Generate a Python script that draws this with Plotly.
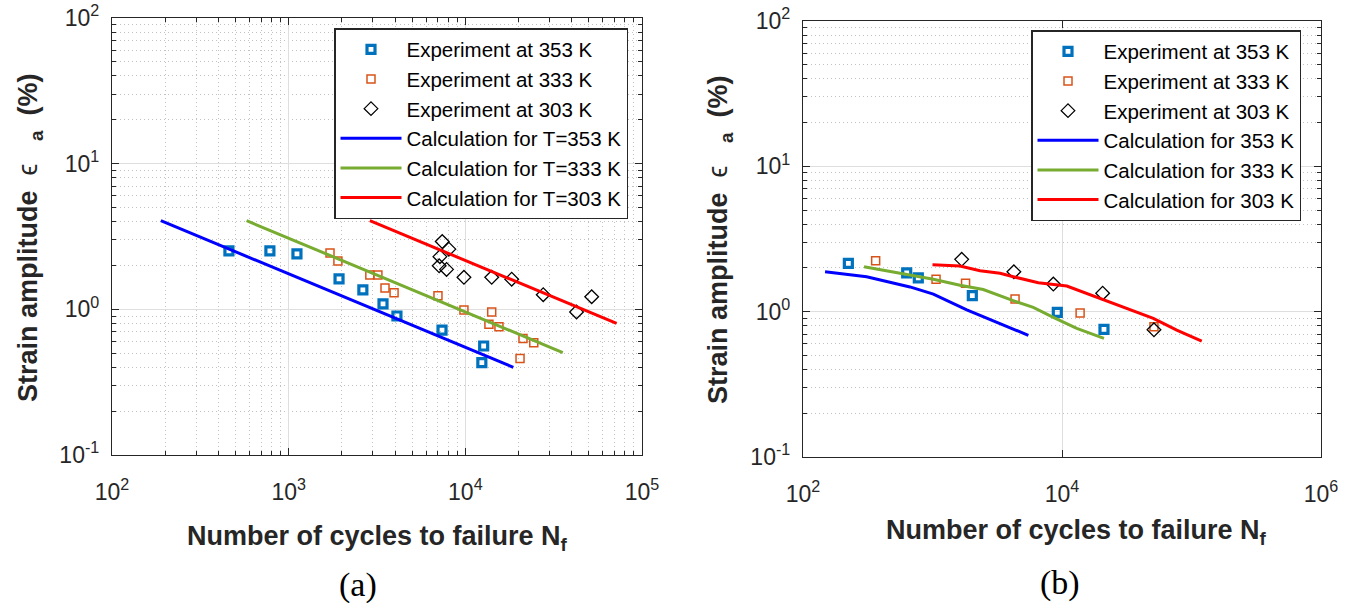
import plotly.graph_objects as go

W, H = 1354, 603
FONT = "Liberation Sans, Arial, sans-serif"

# ---------------- panel (a) data ----------------
n353_a = [459, 783, 1114, 1928, 2630, 3420, 4100, 7380, 12700, 12400]
e353_a = [2.52, 2.52, 2.40, 1.62, 1.36, 1.09, 0.90, 0.72, 0.56, 0.43]
n333_a = [1714, 1900, 2880, 3200, 3510, 3950, 7000, 9820, 14100, 13600, 15500, 21200, 24400, 20400]
e333_a = [2.44, 2.15, 1.72, 1.72, 1.40, 1.30, 1.24, 0.99, 0.96, 0.79, 0.76, 0.63, 0.59, 0.46]
n303_a = [7400, 8070, 7180, 7110, 7830, 9820, 14100, 18300, 27600, 42600, 51900]
e303_a = [2.92, 2.59, 2.30, 1.99, 1.88, 1.66, 1.66, 1.61, 1.26, 0.96, 1.22]
cn353_a = [189, 18700]
ce353_a = [4.06, 0.40]
cn333_a = [578, 35600]
ce333_a = [4.06, 0.505]
cn303_a = [2880, 71800]
ce303_a = [4.06, 0.80]

# ---------------- panel (b) data ----------------
n353_b = [224, 632, 777, 2030, 9200, 21100]
e353_b = [2.15, 1.85, 1.71, 1.29, 0.99, 0.755]
n333_b = [364, 1065, 1800, 4340, 13800, 51300]
e333_b = [2.24, 1.67, 1.57, 1.22, 0.98, 0.787]
n303_b = [1680, 4250, 8570, 20600, 51300]
e303_b = [2.29, 1.88, 1.55, 1.34, 0.75]
cn353_b = [148, 310, 670, 1015, 1840, 3320, 5500]
ce353_b = [1.88, 1.74, 1.48, 1.32, 1.03, 0.83, 0.687]
cn333_b = [296, 561, 1015, 1630, 2465, 4200, 6000, 8570, 13000, 21100]
ce333_b = [2.04, 1.85, 1.67, 1.52, 1.42, 1.19, 1.07, 0.914, 0.767, 0.655]
cn303_b = [1000, 1630, 2330, 3320, 4210, 6560, 10900, 19600, 31600, 50700, 76900, 120000]
ce303_b = [2.10, 2.06, 1.91, 1.835, 1.74, 1.58, 1.50, 1.235, 1.05, 0.90, 0.747, 0.628]

names_a = ["Experiment at 353 K", "Experiment at 333 K", "Experiment at 303 K",
           "Calculation for T=353 K", "Calculation for T=333 K", "Calculation for T=303 K"]
names_b = ["Experiment at 353 K", "Experiment at 333 K", "Experiment at 303 K",
           "Calculation for 353 K", "Calculation for 333 K", "Calculation for 303 K"]

x_major_a = [1e2, 1e3, 1e4, 1e5]
x_major_b = [1e2, 1e4, 1e6]
y_major = [0.1, 1, 10, 100]
ticktext_x_a = ["10<sup>2</sup>", "10<sup>3</sup>", "10<sup>4</sup>", "10<sup>5</sup>"]
ticktext_x_b = ["10<sup>2</sup>", "10<sup>4</sup>", "10<sup>6</sup>"]
ticktext_y = ["10<sup>-1</sup>", "10<sup>0</sup>", "10<sup>1</sup>", "10<sup>2</sup>"]

C_BLUE_M = "#0072BD"
C_ORANGE = "#D95319"
C_BLUE_L = "#0000FF"
C_GREEN = "#77AC30"
C_RED = "#FF0000"

fig = go.Figure()


def add_panel(xa, ya, leg, names, d353, d333, d303, c353, c333, c303):
    fig.add_trace(go.Scatter(x=d353[0], y=d353[1], mode="markers", name=names[0],
                             xaxis=xa, yaxis=ya, legend=leg,
                             marker=dict(symbol="square-open", size=8, color=C_BLUE_M,
                                         line=dict(width=3.2, color=C_BLUE_M))))
    fig.add_trace(go.Scatter(x=d333[0], y=d333[1], mode="markers", name=names[1],
                             xaxis=xa, yaxis=ya, legend=leg,
                             marker=dict(symbol="square-open", size=8, color=C_ORANGE,
                                         line=dict(width=1.5, color=C_ORANGE))))
    fig.add_trace(go.Scatter(x=d303[0], y=d303[1], mode="markers", name=names[2],
                             xaxis=xa, yaxis=ya, legend=leg,
                             marker=dict(symbol="diamond-open", size=10.5, color="black",
                                         line=dict(width=1.3, color="black"))))
    fig.add_trace(go.Scatter(x=c353[0], y=c353[1], mode="lines", name=names[3],
                             xaxis=xa, yaxis=ya, legend=leg,
                             line=dict(color=C_BLUE_L, width=3)))
    fig.add_trace(go.Scatter(x=c333[0], y=c333[1], mode="lines", name=names[4],
                             xaxis=xa, yaxis=ya, legend=leg,
                             line=dict(color=C_GREEN, width=3)))
    fig.add_trace(go.Scatter(x=c303[0], y=c303[1], mode="lines", name=names[5],
                             xaxis=xa, yaxis=ya, legend=leg,
                             line=dict(color=C_RED, width=3)))


add_panel("x", "y", "legend", names_a, (n353_a, e353_a), (n333_a, e333_a), (n303_a, e303_a),
          (cn353_a, ce353_a), (cn333_a, ce333_a), (cn303_a, ce303_a))
add_panel("x2", "y2", "legend2", names_b, (n353_b, e353_b), (n333_b, e333_b), (n303_b, e303_b),
          (cn353_b, ce353_b), (cn333_b, ce333_b), (cn303_b, ce303_b))


def minor_vals(lo, hi):
    vals = []
    d = lo
    while d < hi:
        vals += [d * k for k in range(2, 10)]
        d *= 10
    return vals


AX = "#262626"
common = dict(type="log", showline=True, linecolor=AX, linewidth=1.3, mirror="ticks",
              ticks="inside", ticklen=7, tickwidth=1.2, tickcolor=AX, automargin=False,
              showgrid=True, gridcolor="#dedede", gridwidth=1, zeroline=False,
              tickfont=dict(family=FONT, size=23, color=AX), tickmode="array")
minor_common = dict(ticks="inside", ticklen=4, tickwidth=1, tickcolor=AX, showgrid=True,
                    gridcolor="#c2c2c2", gridwidth=1, griddash="1px,3px")

LEG_FONT = dict(family=FONT, size=20.5, color="black")

fig.update_layout(
    template="none",
    width=W, height=H, margin=dict(l=0, r=0, t=0, b=0, autoexpand=False),
    paper_bgcolor="white", plot_bgcolor="white",
    font=dict(family=FONT, color="black"),
    xaxis=dict(common, domain=[112 / W, 642 / W], range=[2, 5], anchor="y",
               tickvals=x_major_a, ticktext=ticktext_x_a, ticklabelstandoff=16,
               minor=dict(minor_common, tickmode="array", tickvals=minor_vals(100, 1e5))),
    yaxis=dict(common, domain=[1 - 455 / H, 1 - 18 / H], range=[-1, 2], anchor="x",
               tickvals=y_major, ticktext=ticktext_y, ticklabelstandoff=7,
               minor=dict(minor_common, tickmode="array", tickvals=minor_vals(0.1, 100))),
    xaxis2=dict(common, domain=[803 / W, 1321 / W], range=[2, 6], anchor="y2",
                tickvals=x_major_b, ticktext=ticktext_x_b, ticklabelstandoff=16),
    yaxis2=dict(common, domain=[1 - 457 / H, 1 - 21 / H], range=[-1, 2], anchor="x2",
                tickvals=y_major, ticktext=ticktext_y, ticklabelstandoff=7,
                minor=dict(minor_common, tickmode="array", tickvals=minor_vals(0.1, 100))),
    legend=dict(x=334 / W, y=1 - 28 / H, xanchor="left", yanchor="top",
                bgcolor="white", bordercolor=AX, borderwidth=1.5,
                font=LEG_FONT, itemwidth=61),
    legend2=dict(x=1031 / W, y=1 - 30 / H, xanchor="left", yanchor="top",
                 bgcolor="white", bordercolor=AX, borderwidth=1.5,
                 font=LEG_FONT, itemwidth=61),
    showlegend=True,
)

TITLE_FONT = dict(family=FONT, size=27, color="#262626")
NB = "\u00a0"
xtitle = "<b>Number of cycles to failure N<sub>f</sub></b>"
ytitle = ("<b>Strain amplitude</b>" + NB * 2 + "\u03f5" + NB * 3 +
          "<b><sub>a</sub>" + NB * 2 + "(%)</b>")

anns = [
    dict(text=xtitle, x=377 / W, y=1 - 538 / H),
    dict(text=xtitle, x=1076 / W, y=1 - 532 / H),
    dict(text=ytitle, x=30 / W, y=1 - 238 / H, textangle=-90),
    dict(text=ytitle, x=720 / W, y=1 - 240 / H, textangle=-90),
]
for a in anns:
    fig.add_annotation(xref="paper", yref="paper", xanchor="center", yanchor="middle",
                       showarrow=False, font=TITLE_FONT, **a)

for txt, xx, yy in [("(a)", 358, 585), ("(b)", 1060, 583)]:
    fig.add_annotation(text=txt, xref="paper", yref="paper", x=xx / W, y=1 - yy / H,
                       xanchor="center", yanchor="middle", showarrow=False,
                       font=dict(family="Liberation Serif, DejaVu Serif, serif", size=34, color="black"))

fig.write_html("out.html")
